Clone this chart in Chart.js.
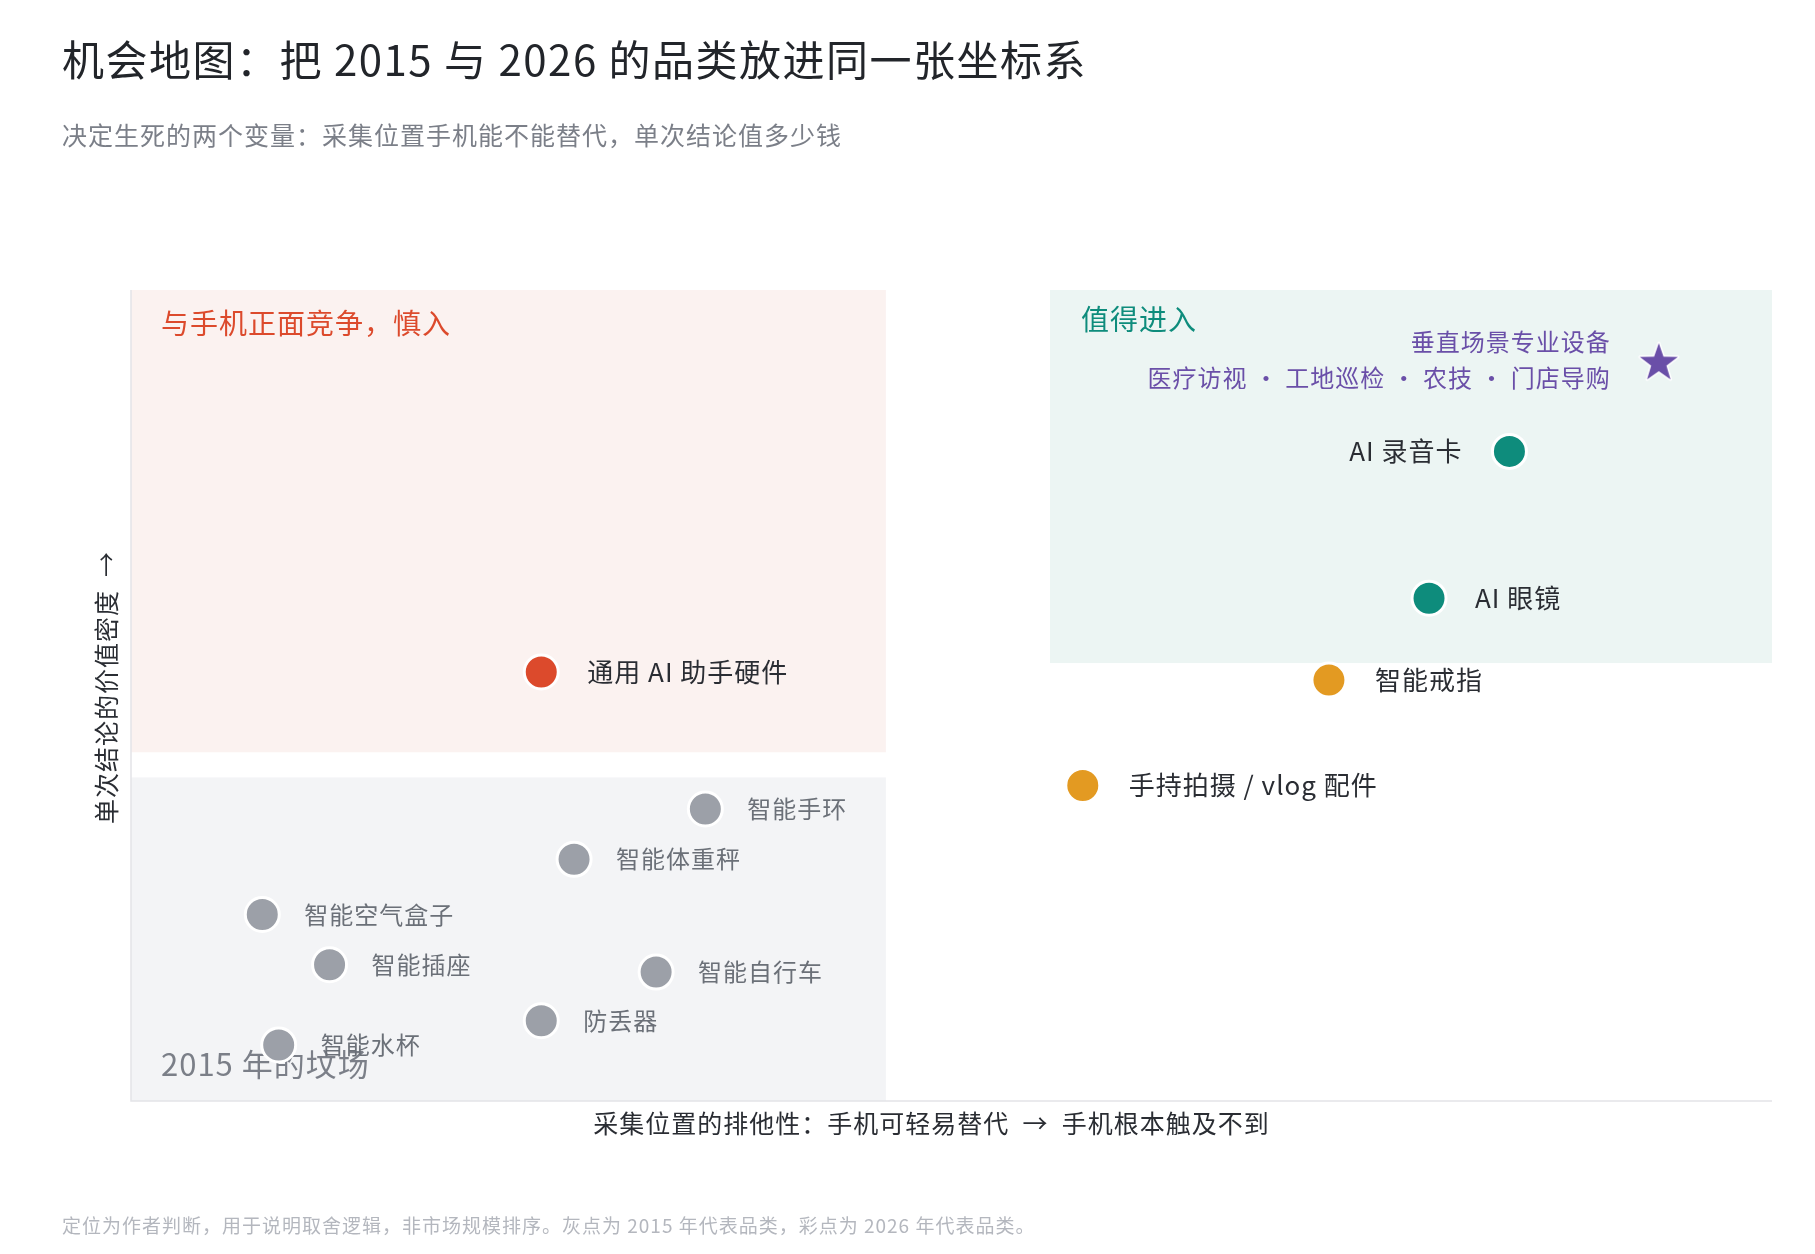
<!DOCTYPE html>
<html><head><meta charset="utf-8">
<script src="https://cdn.jsdelivr.net/npm/chart.js@4"></script>
<style>html,body{margin:0;padding:0;background:#fff}canvas{display:block}</style>
</head><body>
<canvas id="c" width="1815" height="1254"></canvas>
<script>
const FONT = '"Noto Sans CJK SC","Noto Sans",sans-serif';
const grayNames = ["智能手环","智能体重秤","智能空气盒子","智能插座","智能自行车","防丢器","智能水杯"];
const grayX = [35.0,27.0,8.0,12.1,32.0,25.0,9.0];
const grayY = [36.0,29.8,23.0,16.8,15.9,9.9,6.9];
const redNames = ["通用 AI 助手硬件"]; const redX=[25.0]; const redY=[52.9];
const tealNames = ["AI 录音卡","AI 眼镜"]; const tealX=[84.0,79.1]; const tealY=[80.1,62.0];
const orangeNames = ["智能戒指","手持拍摄 / vlog 配件"]; const orangeX=[73.0,58.0]; const orangeY=[51.9,38.9];
const starName = ["垂直场景专业设备","医疗访视 · 工地巡检 · 农技 · 门店导购"]; const starX=[93.1]; const starY=[91.1];
const zoneRed=[0,46,43,100], zoneGray=[0,46,0,39.9], zoneGreen=[56,100,54,100];

function starImg(){const c=document.createElement('canvas');c.width=48;c.height=48;const g=c.getContext('2d');
 g.beginPath();for(let k=0;k<10;k++){const r=k%2?8:20,a=-Math.PI/2+k*Math.PI/5;g.lineTo(24+r*Math.cos(a),25+r*Math.sin(a));}
 g.closePath();g.fillStyle='#6a4fa8';g.strokeStyle='#fff';g.lineWidth=3;g.lineJoin='round';g.stroke();g.fill();return c;}

const pts=(xs,ys)=>xs.map((x,i)=>({x,y:ys[i]}));
const mk=(label,xs,ys,color,names,style)=>({label,data:pts(xs,ys),names,backgroundColor:color,borderColor:'#fff',borderWidth:3,pointRadius:17,pointStyle:style||'circle'});

const overlay={id:'overlay',
 beforeDatasetsDraw(ch){const {ctx,scales:{x,y},chartArea:a}=ch;
  const box=(z,c)=>{ctx.fillStyle=c;const l=x.getPixelForValue(z[0]),r=x.getPixelForValue(z[1]),t=y.getPixelForValue(z[3]),b=y.getPixelForValue(z[2]);ctx.fillRect(l,t,r-l,b-t);};
  ctx.save();box(zoneRed,'#fbf2f0');box(zoneGray,'#f3f4f6');box(zoneGreen,'#ecf5f3');
  ctx.strokeStyle='#e3e4e8';ctx.lineWidth=1.5;ctx.beginPath();ctx.moveTo(a.left,a.top);ctx.lineTo(a.left,a.bottom);ctx.lineTo(a.right,a.bottom);ctx.stroke();
  ctx.textBaseline='middle';ctx.letterSpacing='1px';
  ctx.font='28px '+FONT;ctx.fillStyle='#dc4a2c';ctx.textAlign='left';
  ctx.fillText('与手机正面竞争，慎入',a.left+30,a.top+33);
  ctx.fillStyle='#0e8c7c';ctx.fillText('值得进入',x.getPixelForValue(zoneGreen[0])+31,a.top+29);
  ctx.font='31px '+FONT;ctx.fillStyle='#7b7f88';ctx.fillText('2015 年的坟场',a.left+30,a.bottom-37);
  ctx.restore();},
 afterDatasetsDraw(ch){const {ctx,chartArea:a}=ch;ctx.save();ctx.textBaseline='middle';ctx.letterSpacing='1px';
  ch.data.datasets.forEach((ds,di)=>{const meta=ch.getDatasetMeta(di);
   meta.data.forEach((el,i)=>{const px=el.x,py=el.y;
    if(ds.label==='gray'){ctx.font='24px '+FONT;ctx.fillStyle='#6b7078';ctx.textAlign='left';ctx.fillText(ds.names[i],px+42,py);}
    else if(ds.label==='star'){ctx.font='24px '+FONT;ctx.fillStyle='#6a4fa8';ctx.textAlign='right';ctx.fillText(ds.names[0],px-48,py-20);ctx.fillText(ds.names[1],px-48,py+16);}
    else{ctx.font='26px '+FONT;ctx.fillStyle='#2a2d33';
     if(ds.names[i]==='AI 录音卡'){ctx.textAlign='right';ctx.fillText(ds.names[i],px-47,py);}else{ctx.textAlign='left';ctx.fillText(ds.names[i],px+46,py);}}
   });});
  ctx.textAlign='left';ctx.fillStyle='#22252a';ctx.font='42px '+FONT;ctx.letterSpacing='1.5px';ctx.fillText('机会地图：把 2015 与 2026 的品类放进同一张坐标系',62,60);
  ctx.letterSpacing='1px';
  ctx.fillStyle='#7b7f88';ctx.font='25px '+FONT;ctx.fillText('决定生死的两个变量：采集位置手机能不能替代，单次结论值多少钱',62,135);
  ctx.fillStyle='#b4b7be';ctx.font='19px '+FONT;ctx.fillText('定位为作者判断，用于说明取舍逻辑，非市场规模排序。灰点为 2015 年代表品类，彩点为 2026 年代表品类。',62,1226);
  ctx.fillStyle='#2a2d33';ctx.font='25px '+FONT;ctx.textAlign='center';ctx.fillText('采集位置的排他性：手机可轻易替代  →  手机根本触及不到',(a.left+a.right)/2-20,1123);
  ctx.translate(106,(a.top+a.bottom)/2-8);ctx.rotate(-Math.PI/2);ctx.fillText('单次结论的价值密度  →',0,0);
  ctx.restore();}};

new Chart(document.getElementById('c'),{type:'scatter',
 data:{datasets:[mk('gray',grayX,grayY,'#9ca0a8',grayNames),mk('red',redX,redY,'#dc4a2c',redNames),mk('teal',tealX,tealY,'#0e8c7c',tealNames),mk('orange',orangeX,orangeY,'#e39a22',orangeNames),mk('star',starX,starY,'#6a4fa8',starName,starImg())]},
 options:{responsive:false,animation:false,layout:{padding:{left:131,right:43,top:290,bottom:153}},
  plugins:{legend:{display:false},tooltip:{enabled:false}},
  scales:{x:{min:0,max:100,display:false},y:{min:0,max:100,display:false}}},
 plugins:[overlay]});
</script></body></html>
